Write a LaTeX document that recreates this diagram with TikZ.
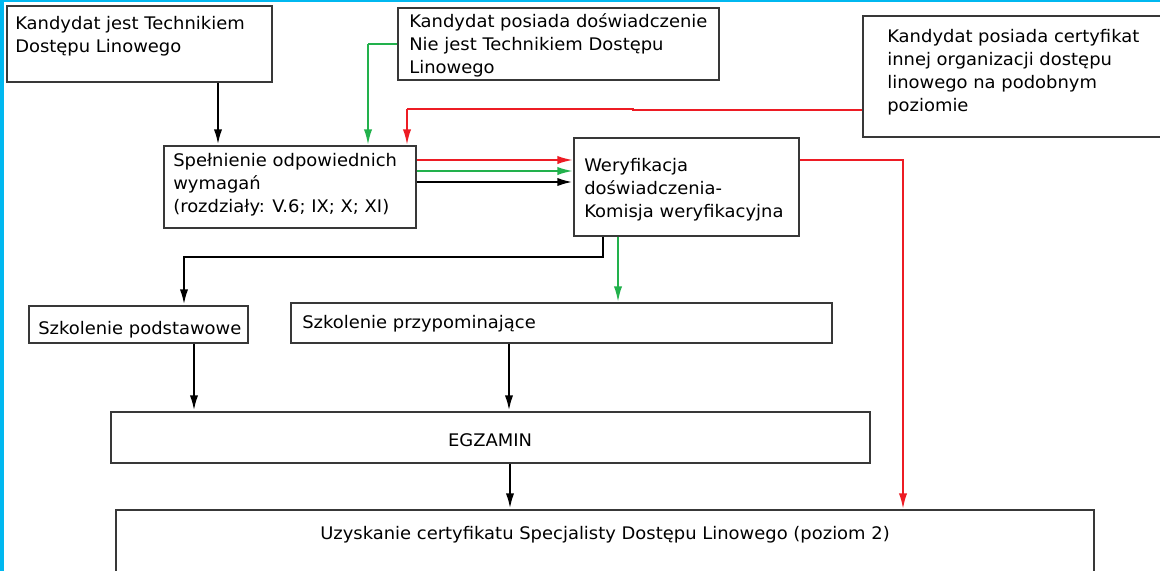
\documentclass[tikz,border=0pt]{standalone}
\usepackage{fontspec}
\setmainfont[FakeStretch=1.035]{DejaVu Sans}
\usetikzlibrary{arrows.meta,fit}
\definecolor{cyanb}{RGB}{0,184,240}
\definecolor{grn}{RGB}{34,177,76}
\definecolor{rd}{RGB}{237,28,36}
\begin{document}
\begin{tikzpicture}[x=0.75pt,y=-0.75pt,
  box/.style={draw=black!78,line width=1pt,inner sep=0pt,fill=none},
  txt/.style={inner sep=0pt,align=left,font=\fontsize{13}{17.2}\selectfont,anchor=base west},
  conn/.style={line width=1.7pt,-{Latex[length=12pt,width=6.2pt]}},
  blk/.style={conn,draw=black,line width=2pt},
  gr/.style={conn,draw=grn},
  rr/.style={conn,draw=rd}]
\useasboundingbox (0,0) rectangle (1160,571);
\clip (0,0) rectangle (1160,571);
\fill[white] (0,0) rectangle (1160,571);
% boxes
\node[box,fit={(7,6) (272,82)}] (A) {};
\node[box,fit={(398,8) (719,80)}] (B) {};
\node[box,fit={(863,16) (1170,137)}] (C) {};
\node[box,fit={(164,146) (416,228)}] (D) {};
\node[box,fit={(574,138) (799,236)}] (E) {};
\node[box,fit={(29,306) (248,343)}] (F) {};
\node[box,fit={(291,303) (832,343)}] (G) {};
\node[box,fit={(111,412) (870,463)}] (H) {};
\node[box,fit={(116,510) (1094,590)}] (I) {};
% texts (anchored at the baseline of the last line)
\node[txt] (At) at (15,52) {Kandydat jest Technikiem\\Dostępu Linowego};
\node[txt] (Bt) at (409,73) {Kandydat posiada doświadczenie\\Nie jest Technikiem Dostępu\\Linowego};
\node[txt] (Ct) at (887,111) {Kandydat posiada certyfikat\\innej organizacji dostępu\\linowego na podobnym\\poziomie};
\node[txt] (Dt) at (173,212) {Spełnienie odpowiednich\\wymagań\\(rozdziały: V.6; IX; X; XI)};
\node[txt] (Et) at (584,217) {Weryfikacja\\doświadczenia-\\Komisja weryfikacyjna};
\node[txt] (Ft) at (38,334) {Szkolenie podstawowe};
\node[txt] (Gt) at (302,328) {Szkolenie przypominające};
\node[txt,anchor=base] (Ht) at (490,446) {EGZAMIN};
\node[txt,anchor=base] (It) at (605,539) {Uzyskanie certyfikatu Specjalisty Dostępu Linowego (poziom 2)};
% connectors
\draw[blk] (218,0 |- A.south) -- (218,0 |- D.north);
\draw[gr,-] (B.west |- 0,44) -- (368,44);
\draw[gr] (368,44) -- (368,0 |- D.north);
\draw[rr,-] (C.west |- 0,110) -- (633,110) -- (633,109) -- (407,109);
\draw[rr] (407,109) -- (407,0 |- D.north);
\draw[rr] (D.east |- 0,160) -- (E.west |- 0,160);
\draw[gr] (D.east |- 0,171) -- (E.west |- 0,171);
\draw[blk] (D.east |- 0,182) -- (E.west |- 0,182);
\draw[rr] (E.east |- 0,160) -- (903,160) -- (903,0 |- I.north);
\draw[blk] (603,0 |- E.south) -- (603,257) -- (184,257) -- (184,0 |- F.north);
\draw[gr] (618,0 |- E.south) -- (618,0 |- G.north);
\draw[blk] (194,0 |- F.south) -- (194,0 |- H.north);
\draw[blk] (509,0 |- G.south) -- (509,0 |- H.north);
\draw[blk] (510,0 |- H.south) -- (510,0 |- I.north);
% frame strips
\fill[cyanb] (0,0) rectangle (3.5,571);
\fill[cyanb] (0,0) rectangle (1160,2);
\end{tikzpicture}
\end{document}
